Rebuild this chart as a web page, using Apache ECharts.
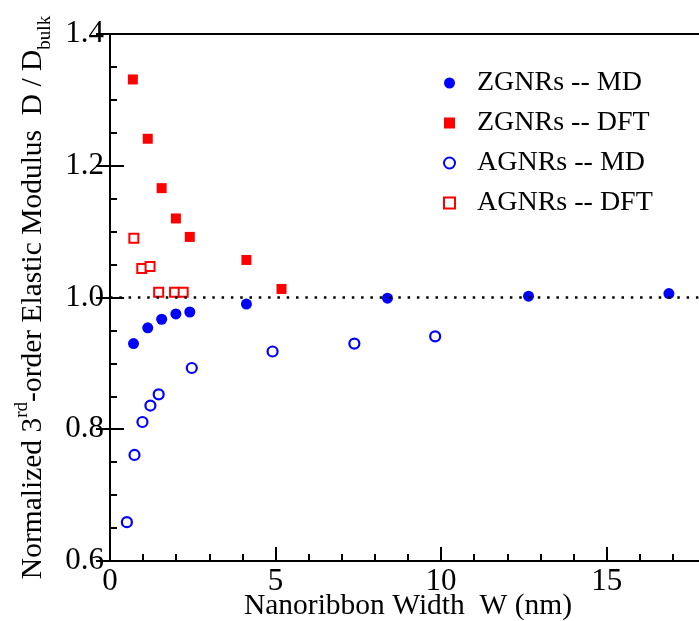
<!DOCTYPE html>
<html>
<head>
<meta charset="utf-8">
<script src="https://cdn.jsdelivr.net/npm/echarts@6/dist/echarts.min.js"></script>
<style>
  html, body { margin: 0; padding: 0; background: #fff; }
  #chart { width: 699px; height: 621px; }
</style>
</head>
<body>
<div id="chart"></div>
<script>
// widths (nm) and normalized modulus D/Dbulk
var wZgnrMd = [0.71, 1.14, 1.56, 1.99, 2.41, 4.12, 8.38, 12.64, 16.88]
var dZgnrMd = [0.930, 0.954, 0.967, 0.975, 0.978, 0.990, 0.999, 1.002, 1.006]
var wZgnrDft = [0.69, 1.14, 1.56, 1.99, 2.41, 4.12, 5.18]
var dZgnrDft = [1.331, 1.241, 1.166, 1.120, 1.092, 1.057, 1.013]
var wAgnrMd = [0.51, 0.74, 0.98, 1.22, 1.47, 2.47, 4.91, 7.38, 9.82]
var dAgnrMd = [0.659, 0.761, 0.811, 0.836, 0.853, 0.893, 0.918, 0.930, 0.941]
var wAgnrDft = [0.72, 0.96, 1.21, 1.47, 1.95, 2.21]
var dAgnrDft = [1.090, 1.044, 1.047, 1.008, 1.008, 1.008]
var seriesNames = ['ZGNRs -- MD', 'ZGNRs -- DFT', 'AGNRs -- MD', 'AGNRs -- DFT']
var refLevel = 1.0

var font = 'Liberation Serif'
var black = '#000'
var blue = '#0000ff'
var red = '#ff0000'

function pairs(xs, ys) {
  return xs.map(function (x, i) { return [x, ys[i]] })
}

var chart = echarts.init(document.getElementById('chart'))

var xBase = { type: 'value', min: 0, max: 18, splitLine: { show: false } }
var yBase = { type: 'value', min: 0.6, max: 1.4, splitLine: { show: false } }
var frame = { lineStyle: { color: black, width: 2 } }
var bigTick = { inside: true, length: 14, lineStyle: { color: black, width: 2 } }
var smallTick = { inside: true, length: 7, lineStyle: { color: black, width: 2 } }

var option = {
  backgroundColor: '#fff',
  animation: false,
  // plot frame runs past the right edge, as in the cropped original
  grid: { left: 110, top: 34, bottom: 60, right: -7, containLabel: false, outerBoundsMode: 'none' },
  legend: {
    orient: 'vertical',
    left: 438,
    top: 64,
    itemWidth: 11,
    itemHeight: 11,
    itemGap: 12,
    data: seriesNames,
    textStyle: { fontFamily: font, fontSize: 28, color: black, padding: [0, 0, 0, 17] }
  },
  xAxis: [
    Object.assign({}, xBase, {
      position: 'bottom',
      interval: 5,
      axisLine: frame,
      axisTick: bigTick,
      axisLabel: { fontFamily: font, fontSize: 31, color: black, margin: 5, showMaxLabel: false },
      name: 'Nanoribbon Width  W (nm)',
      nameLocation: 'middle',
      nameGap: 30,
      nameMoveOverlap: false,
      nameTextStyle: { fontFamily: font, fontSize: 29.5, color: black }
    }),
    Object.assign({}, xBase, {
      position: 'bottom',
      interval: 1,
      axisLine: { show: false },
      axisTick: smallTick,
      axisLabel: { show: false }
    }),
    Object.assign({}, xBase, {
      position: 'top',
      axisLine: frame,
      axisTick: { show: false },
      axisLabel: { show: false }
    })
  ],
  yAxis: [
    Object.assign({}, yBase, {
      position: 'left',
      interval: 0.2,
      axisLine: frame,
      axisTick: bigTick,
      axisLabel: {
        fontFamily: font, fontSize: 31, color: black, margin: 6,
        formatter: function (v) { return v.toFixed(1) }
      },
      name: 'Normalized 3{sup|rd}-order Elastic Modulus  D / D{sub|bulk}',
      nameLocation: 'middle',
      nameRotate: 90,
      nameGap: 54,
      nameTextStyle: {
        fontFamily: font, fontSize: 29.5, color: black, lineHeight: 42,
        rich: {
          sup: { fontFamily: font, fontSize: 19, color: black, verticalAlign: 'top' },
          sub: { fontFamily: font, fontSize: 19, color: black, verticalAlign: 'bottom' }
        }
      }
    }),
    Object.assign({}, yBase, {
      position: 'right',
      interval: 0.2,
      axisLine: frame,
      axisTick: bigTick,
      axisLabel: { show: false }
    }),
    Object.assign({}, yBase, {
      position: 'left',
      interval: 0.05,
      axisLine: { show: false },
      axisTick: smallTick,
      axisLabel: { show: false }
    }),
    Object.assign({}, yBase, {
      position: 'right',
      interval: 0.05,
      axisLine: { show: false },
      axisTick: smallTick,
      axisLabel: { show: false }
    })
  ],
  series: [
    {
      name: seriesNames[0],
      type: 'scatter',
      symbol: 'circle',
      symbolSize: 11,
      itemStyle: { color: blue, opacity: 1 },
      data: pairs(wZgnrMd, dZgnrMd),
      z: 3,
      markLine: {
        silent: true,
        symbol: 'none',
        label: { show: false },
        lineStyle: { color: black, width: 2.5, type: [2.5, 6.8], opacity: 1 },
        data: [{ yAxis: refLevel }]
      }
    },
    {
      name: seriesNames[1],
      type: 'scatter',
      symbol: 'rect',
      symbolSize: 10,
      itemStyle: { color: red, opacity: 1 },
      data: pairs(wZgnrDft, dZgnrDft),
      z: 3
    },
    {
      name: seriesNames[2],
      type: 'scatter',
      symbol: 'circle',
      symbolSize: 10,
      itemStyle: { color: '#fff', borderColor: blue, borderWidth: 2.2, opacity: 1 },
      data: pairs(wAgnrMd, dAgnrMd),
      z: 3
    },
    {
      name: seriesNames[3],
      type: 'scatter',
      symbol: 'rect',
      symbolSize: 9,
      itemStyle: { color: '#fff', borderColor: red, borderWidth: 2, opacity: 1 },
      data: pairs(wAgnrDft, dAgnrDft),
      z: 3
    }
  ]
}

chart.setOption(option)
</script>
</body>
</html>
